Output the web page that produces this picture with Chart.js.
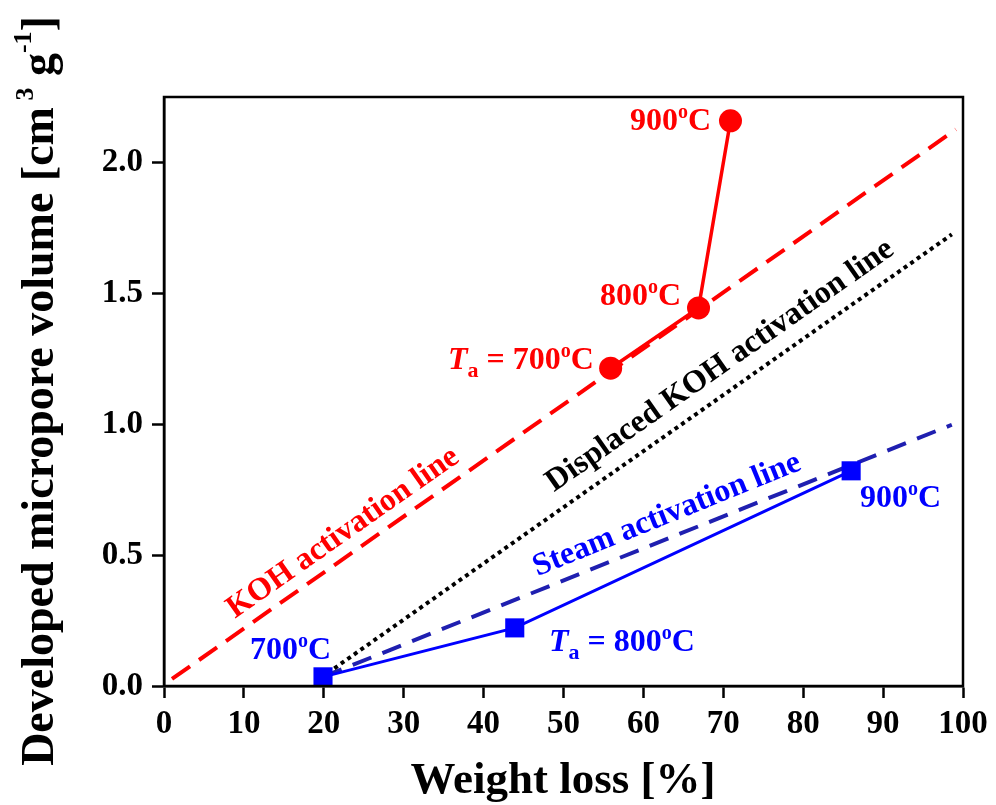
<!DOCTYPE html>
<html>
<head>
<meta charset="utf-8">
<script src="https://cdn.jsdelivr.net/npm/chart.js@4"></script>
<style>
  html, body { margin: 0; padding: 0; background: #fff; }
  #wrap { width: 996px; height: 805px; }
</style>
</head>
<body>
<div id="wrap"><canvas id="chart" width="996" height="805"></canvas></div>
<script>
// ticks
const xTicks = [0, 10, 20, 30, 40, 50, 60, 70, 80, 90, 100];
const yTicks = [0, 0.5, 1.0, 1.5, 2.0];

// KOH activated samples (Ta = 700, 800, 900 C)
const kohLoss = [55.9, 66.9, 70.9];
const kohVolume = [1.214, 1.444, 2.159];

// steam activated samples (Ta = 700, 800, 900 C)
const steamLoss = [19.9, 43.9, 86.0];
const steamVolume = [0.035, 0.222, 0.822];

// guide lines
const kohLineX = [1.0, 99.1];
const kohLineY = [0.027, 2.126];
const displacedX = [20.5, 98.6];
const displacedY = [0.05, 1.725];
const steamLineX = [19.9, 98.6];
const steamLineY = [0.035, 0.998];

const RED = "#ff0000";
const BLUE = "#0000ff";
const NAVY = "#1f1fb0";
const SERIF = "'Liberation Serif', 'Times New Roman', serif";

const pts = (xs, ys) => xs.map((x, i) => ({ x: x, y: ys[i] }));

// draw a run of text pieces (sup/sub) starting at x, baseline y
function richText(ctx, parts, x, y, color, align) {
  let w = 0;
  parts.forEach((p) => {
    ctx.font = `${p.italic ? "italic " : ""}bold ${p.size}px ${SERIF}`;
    p.w = ctx.measureText(p.t).width;
    w += p.w;
  });
  let cx = x;
  if (align === "center") cx = x - w / 2;
  ctx.fillStyle = color;
  ctx.textBaseline = "alphabetic";
  ctx.textAlign = "left";
  parts.forEach((p) => {
    ctx.font = `${p.italic ? "italic " : ""}bold ${p.size}px ${SERIF}`;
    ctx.fillText(p.t, cx, y + (p.dy || 0));
    cx += p.w;
  });
}

function degC(num, size) {
  return [
    { t: num, size: size },
    { t: "o", size: 20, dy: -12 },
    { t: "C", size: size },
  ];
}

function rotText(ctx, text, x, y, angle, color, size) {
  ctx.save();
  ctx.translate(x, y);
  ctx.rotate((angle * Math.PI) / 180);
  ctx.font = `bold ${size}px ${SERIF}`;
  ctx.fillStyle = color;
  ctx.textAlign = "center";
  ctx.textBaseline = "middle";
  ctx.fillText(text, 0, 0);
  ctx.restore();
}

const annotations = {
  id: "annotations",
  afterDraw(chart) {
    const ctx = chart.ctx;
    const a = chart.chartArea;
    ctx.save();
    // frame
    ctx.strokeStyle = "#000";
    ctx.lineWidth = 2.5;
    ctx.strokeRect(a.left, a.top, a.right - a.left, a.bottom - a.top);

    // point labels
    richText(ctx, degC("900", 32), 630, 130, RED);
    richText(ctx, degC("800", 32), 600, 305, RED);
    richText(ctx, [
      { t: "T", size: 32, italic: true },
      { t: "a", size: 22, dy: 8 },
      { t: " = ", size: 32 },
    ].concat(degC("700", 32)), 448, 369, RED);

    richText(ctx, degC("700", 32), 250, 659, BLUE);
    richText(ctx, [
      { t: "T", size: 32, italic: true },
      { t: "a", size: 22, dy: 8 },
      { t: " = ", size: 32 },
    ].concat(degC("800", 32)), 549, 651, BLUE);
    richText(ctx, degC("900", 32), 860, 507, BLUE);

    // line labels
    rotText(ctx, "KOH activation line", 343, 533, -35, RED, 32);
    rotText(ctx, "Displaced KOH activation line", 720, 366, -35, "#000", 32);
    rotText(ctx, "Steam activation line", 667, 515, -22, BLUE, 32);

    // axis titles
    richText(ctx, [{ t: "Weight loss [%]", size: 45 }], 563, 793, "#000", "center");
    ctx.save();
    ctx.translate(53, 391);
    ctx.rotate(-Math.PI / 2);
    richText(ctx, [
      { t: "Developed micropore volume [cm", size: 46 },
      { t: " 3", size: 26, dy: -20 },
      { t: " g", size: 46 },
      { t: "-1", size: 26, dy: -22 },
      { t: "]", size: 46 },
    ], 0, 0, "#000", "center");
    ctx.restore();
    ctx.restore();
  },
};

const tickFont = { family: SERIF, size: 33, weight: "bold" };

new Chart(document.getElementById("chart"), {
  type: "scatter",
  data: {
    datasets: [
      {
        label: "KOH",
        data: pts(kohLoss, kohVolume),
        showLine: true,
        borderColor: RED,
        backgroundColor: RED,
        borderWidth: 3.5,
        pointRadius: 11.5,
        pointBorderWidth: 0,
        pointStyle: "circle",
      },
      {
        label: "Steam",
        data: pts(steamLoss, steamVolume),
        showLine: true,
        borderColor: BLUE,
        backgroundColor: BLUE,
        borderWidth: 3,
        pointRadius: 13.5,
        pointBorderWidth: 0,
        pointStyle: "rect",
      },
      {
        label: "KOH activation line",
        data: pts(kohLineX, kohLineY),
        showLine: true,
        borderColor: RED,
        borderWidth: 4,
        borderDash: [22, 11],
        pointRadius: 0,
      },
      {
        label: "Displaced KOH activation line",
        data: pts(displacedX, displacedY),
        showLine: true,
        borderColor: "#000",
        borderWidth: 4,
        borderDash: [4, 4],
        pointRadius: 0,
      },
      {
        label: "Steam activation line",
        data: pts(steamLineX, steamLineY),
        showLine: true,
        borderColor: NAVY,
        borderWidth: 4,
        borderDash: [20, 12],
        pointRadius: 0,
      },
    ],
  },
  options: {
    responsive: false,
    animation: false,
    clip: false,
    layout: { padding: { top: 97, right: 33, left: 0, bottom: 0 } },
    plugins: {
      legend: { display: false },
      tooltip: { enabled: false },
    },
    scales: {
      x: {
        type: "linear",
        min: 0,
        max: 100,
        afterBuildTicks: (scale) => {
          scale.ticks = xTicks.map((v) => ({ value: v }));
        },
        afterFit: (scale) => {
          scale.height = 119;
        },
        ticks: {
          font: tickFont,
          color: "#000",
          padding: 7,
          maxRotation: 0,
          autoSkip: false,
        },
        grid: {
          drawOnChartArea: false,
          tickLength: 12,
          tickWidth: 2.5,
          tickColor: "#000",
        },
        border: { color: "#000", width: 2.5 },
      },
      y: {
        type: "linear",
        min: 0,
        max: 2.25,
        afterBuildTicks: (scale) => {
          scale.ticks = yTicks.map((v) => ({ value: v }));
        },
        afterFit: (scale) => {
          scale.width = 164;
        },
        ticks: {
          font: tickFont,
          color: "#000",
          padding: 9,
          callback: (v) => Number(v).toFixed(1),
        },
        grid: {
          drawOnChartArea: false,
          tickLength: 12,
          tickWidth: 2.5,
          tickColor: "#000",
        },
        border: { color: "#000", width: 2.5 },
      },
    },
  },
  plugins: [annotations],
});
</script>
</body>
</html>
